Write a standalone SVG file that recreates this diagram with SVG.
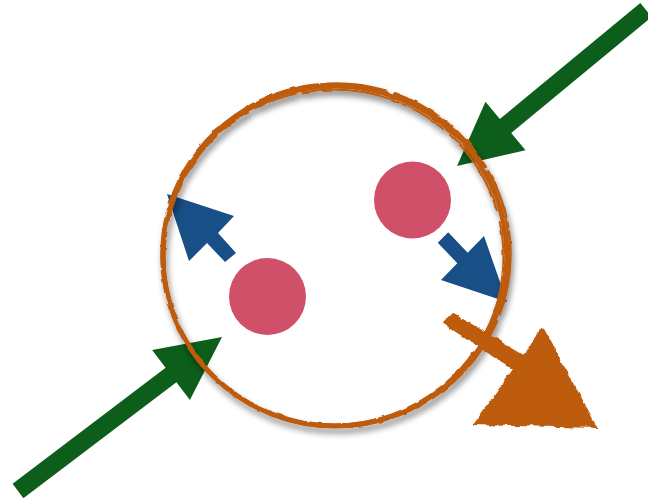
<svg xmlns="http://www.w3.org/2000/svg" width="648" height="498" viewBox="0 0 648 498">
<style>
.green{fill:#0d5e1a}
.blue{fill:#184f86}
.pink{fill:#cf5068}
.brush{fill:none;stroke:#bd5b10;stroke-linecap:round}
.orange{fill:#bd5b10}
</style>
<defs>
<filter id="rough" x="-10%" y="-10%" width="120%" height="120%">
<feTurbulence type="fractalNoise" baseFrequency="0.09" numOctaves="3" seed="3" result="n"/>
<feDisplacementMap in="SourceGraphic" in2="n" scale="6" xChannelSelector="R" yChannelSelector="G"/>
</filter>
<filter id="shadow" x="-10%" y="-10%" width="120%" height="120%">
<feGaussianBlur in="SourceAlpha" stdDeviation="3" result="b"/>
<feOffset in="b" dx="2" dy="5" result="o"/>
<feComponentTransfer in="o" result="s"><feFuncA type="linear" slope="0.45"/></feComponentTransfer>
<feTurbulence type="fractalNoise" baseFrequency="0.08" numOctaves="2" seed="7" result="n"/>
<feDisplacementMap in="SourceGraphic" in2="n" scale="3" xChannelSelector="R" yChannelSelector="G" result="r"/>
<feMerge><feMergeNode in="s"/><feMergeNode in="r"/></feMerge>
</filter>
</defs>
<rect width="648" height="498" fill="#ffffff"/>
<g id="connectors">
<polygon class="green" points="457,166 485.5,101.7 499.8,119.1 640.3,3.1 651.7,16.9 511.2,132.9 525.5,150.3"/>
<polygon class="green" points="222,337 152.1,349.9 165.6,367.8 12.6,483.8 23.4,498.2 176.4,382.2 189.9,400.1"/>
<polygon class="blue" points="167,194 234,216 218,233 236,253 225,262 207,243 189,261"/>
<polygon class="blue" points="507,302 441,280 457.3,263.2 437.8,242.7 448.2,232.3 467.7,252.8 484,236"/>
</g>
<g id="particle-1"><circle class="pink" cx="412.5" cy="200" r="38.5"/></g>
<g id="particle-2"><circle class="pink" cx="267.5" cy="296.5" r="38.5"/></g>
<g id="boundary" filter="url(#shadow)">
<ellipse class="brush" cx="335" cy="256" rx="172" ry="170" stroke-width="5"/>
<ellipse class="brush" cx="336" cy="255" rx="174.5" ry="171.5" stroke-width="2.5" stroke-dasharray="60 8 120 5 200 10"/>
<ellipse class="brush" cx="334" cy="257" rx="169.5" ry="167.5" stroke-width="2" stroke-dasharray="90 12 40 6 150 9"/>
</g>
<g id="output-arrow" filter="url(#rough)">
<polygon class="orange" points="442,323 452,313 539,364 529,380"/>
<polygon class="orange" points="543,327 473,425 598,428"/>
</g>
</svg>
